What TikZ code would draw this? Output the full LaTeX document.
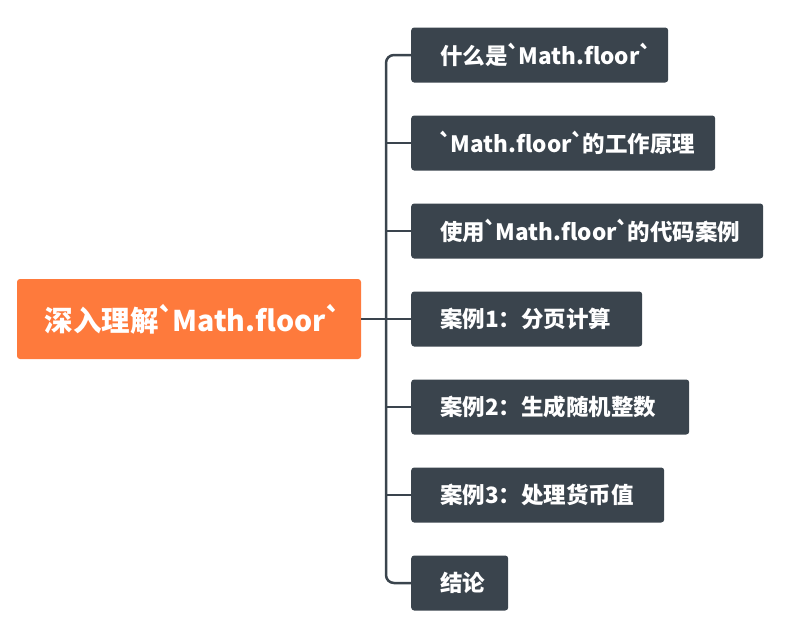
\documentclass[tikz,border=0pt]{standalone}
\usepackage{fontspec}
\usepackage{tikz}
\usetikzlibrary{positioning}
\newfontfamily\cjk{Noto Sans CJK SC}
% grave quote, pulled closer to its neighbours
\newcommand{\bq}{\kern-0.06em\symbol{96}\kern-0.1em}
\definecolor{rootorange}{HTML}{FE7A3C}
\definecolor{slate}{HTML}{3A444D}
\tikzset{
  rootbox/.style={fill=rootorange, text=white, rounded corners=3pt, minimum height=80pt,
    text width=288pt, inner xsep=28pt, align=left, font=\cjk\bfseries\fontsize{28.5}{31}\selectfont},
  topicbox/.style={fill=slate, text=white, rounded corners=3pt, minimum height=55pt,
    text width=#1, inner xsep=29pt, align=left, anchor=west, font=\cjk\bfseries\fontsize{22.5}{25}\selectfont},
  link/.style={draw=slate, line width=2.5pt}
}

\begin{document}
\begin{tikzpicture}[x=1pt, y=-1pt]
        \useasboundingbox (0,0) rectangle (785,632);

        % Root
        \node[rootbox] (root) at (189,319) {\mbox{深入理解\bq Math.floor\bq}};

        % Topics
        \node[topicbox=199pt] (c1) at (411,55) {\mbox{什么是\bq Math.floor\bq}};
        \node[topicbox=246pt] (c2) at (411,143) {\mbox{\bq Math.floor\bq 的工作原理}};
        \node[topicbox=294pt] (c3) at (411,231) {\mbox{使用\bq Math.floor\bq 的代码案例}};
        \node[topicbox=173pt] (c4) at (411,319) {\mbox{案例1：分页计算}};
        \node[topicbox=220pt] (c5) at (411,407) {\mbox{案例2：生成随机整数}};
        \node[topicbox=195pt] (c6) at (411,495) {\mbox{案例3：处理货币值}};
        \node[topicbox=39pt] (c7) at (411,583) {\mbox{结论}};

        % Connectors
        \coordinate (spine) at (386,319);
        \draw[link, rounded corners=8pt] (c1.west) -| (spine) |- (c7.west);
        \foreach \i in {2,...,6}
          \draw[link] (c\i.west) -- (c\i.west -| spine);
        \draw[link] (root.east) -- (spine);
      \end{tikzpicture}
\end{document}
